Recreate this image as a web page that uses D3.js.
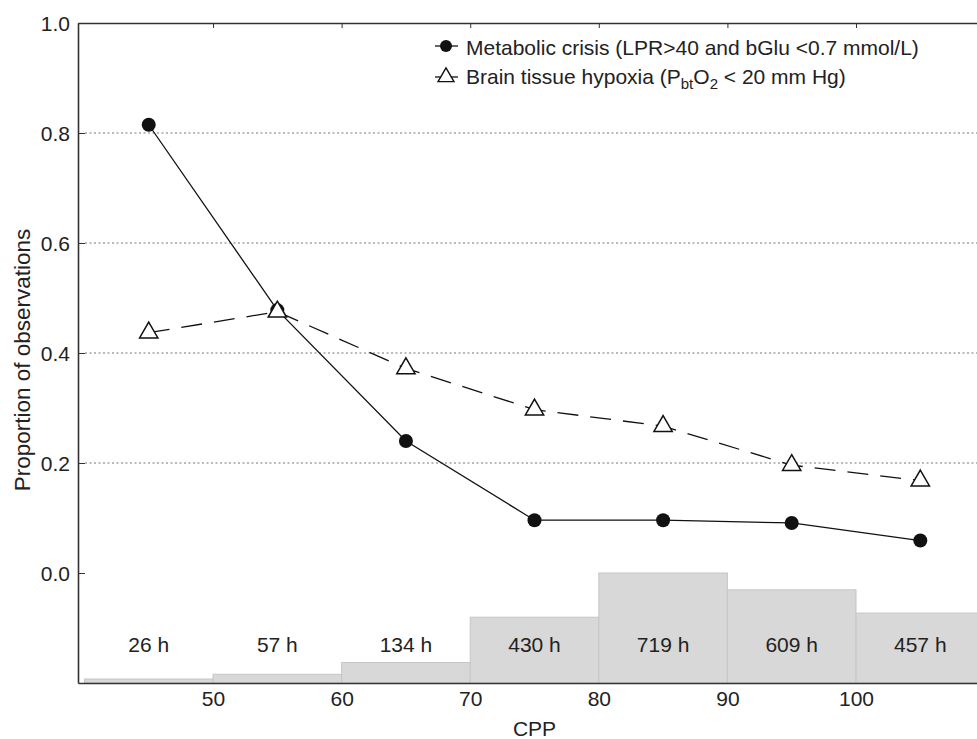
<!DOCTYPE html>
<html>
<head>
<meta charset="utf-8">
<script src="https://cdn.jsdelivr.net/npm/d3@7"></script>
<style>
  body { margin: 0; background: #fff; }
  text { font-family: "Liberation Sans", Arial, sans-serif; fill: #222; }
  .axis path, .axis line { stroke: #333; }
</style>
</head>
<body>
<div id="chart"></div>
<script>
// DATA
const binStarts = [40, 50, 60, 70, 80, 90, 100];    // CPP bins, 10 wide
const binMids = [45, 55, 65, 75, 85, 95, 105];
const hours = [26, 57, 134, 430, 719, 609, 457];    // monitoring time per bin
const metabolic = [0.815, 0.478, 0.24, 0.096, 0.096, 0.091, 0.059];
const hypoxia = [0.437, 0.475, 0.372, 0.297, 0.267, 0.196, 0.168];
const xTicks = [50, 60, 70, 80, 90, 100];
const yTicks = [0.0, 0.2, 0.4, 0.6, 0.8, 1.0];
const gridTicks = [0.2, 0.4, 0.6, 0.8];

// 1: SVG
const W = 977, H = 739;
const margin = { top: 23, left: 78, bottom: 55 };
const svg = d3.select("#chart").append("svg")
    .attr("width", W)
    .attr("height", H);

// 2: SCALES
const x = d3.scaleLinear().domain([39.5, 110]).range([margin.left, 984.6]);
const y = d3.scaleLinear().domain([-0.2, 1.0]).range([H - margin.bottom - 1, margin.top]);
const hScale = d3.scaleLinear().domain([0, 719]).range([0, 110]); // bar height in px

const bottom = y(-0.2);

// 3: GRIDLINES (dotted)
svg.append("g")
    .selectAll("line")
    .data(gridTicks)
    .enter().append("line")
    .attr("x1", margin.left + 7)
    .attr("x2", W)
    .attr("y1", d => y(d))
    .attr("y2", d => y(d))
    .attr("stroke", "#777")
    .attr("stroke-width", 1)
    .attr("stroke-dasharray", "2,2.5");

// 4: AXES (ticks point inward)
svg.append("g")
    .attr("class", "axis")
    .attr("transform", `translate(${margin.left},0)`)
    .call(d3.axisLeft(y).tickValues(yTicks).tickFormat(d3.format(".1f"))
        .tickSizeInner(-7).tickSizeOuter(0).tickPadding(8))
    .call(g => g.select(".domain").attr("stroke-width", 1.6))
    .call(g => g.selectAll("text").attr("font-size", 21).attr("dy", "0.36em"));

svg.append("g")
    .attr("class", "axis")
    .attr("transform", `translate(0,${margin.top})`)
    .call(d3.axisTop(x).tickValues(xTicks).tickFormat("")
        .tickSizeInner(-5).tickSizeOuter(0))
    .call(g => g.select(".domain").attr("stroke-width", 1.6));

// 5: HISTOGRAM OF HOURS
svg.append("g")
    .selectAll("rect")
    .data(binStarts)
    .enter().append("rect")
    .attr("x", d => x(d))
    .attr("width", d => x(d + 10) - x(d))
    .attr("y", (d, i) => bottom - hScale(hours[i]))
    .attr("height", (d, i) => hScale(hours[i]))
    .attr("fill", "#d8d8d8")
    .attr("stroke", "#c6c6c6")
    .attr("stroke-width", 1);

svg.append("g")
    .selectAll("text")
    .data(hours)
    .enter().append("text")
    .attr("x", (d, i) => x(binMids[i]))
    .attr("y", 652)
    .attr("text-anchor", "middle")
    .attr("font-size", 21)
    .text(d => d + " h");

svg.append("g")
    .attr("class", "axis")
    .attr("transform", `translate(0,${bottom})`)
    .call(d3.axisBottom(x).tickValues(xTicks).tickFormat(d3.format("d"))
        .tickSizeInner(0).tickSizeOuter(0).tickPadding(8))
    .call(g => g.select(".domain").attr("stroke-width", 1.6))
    .call(g => g.selectAll("text").attr("font-size", 21));

// 6: LINES
const line = d3.line().x(d => x(d[0])).y(d => y(d[1]));

svg.append("path")
    .datum(d3.zip(binMids, hypoxia))
    .attr("d", line)
    .attr("fill", "none")
    .attr("stroke", "#111")
    .attr("stroke-width", 1.3)
    .attr("stroke-dasharray", "21,12");

svg.append("path")
    .datum(d3.zip(binMids, metabolic))
    .attr("d", line)
    .attr("fill", "none")
    .attr("stroke", "#111")
    .attr("stroke-width", 1.3);

svg.append("g")
    .selectAll("circle")
    .data(d3.zip(binMids, metabolic))
    .enter().append("circle")
    .attr("cx", d => x(d[0]))
    .attr("cy", d => y(d[1]))
    .attr("r", 7)
    .attr("fill", "#111");

const tri = d3.symbol(d3.symbolTriangle, 145);
svg.append("g")
    .selectAll("path")
    .data(d3.zip(binMids, hypoxia))
    .enter().append("path")
    .attr("d", tri)
    .attr("transform", d => `translate(${x(d[0])},${y(d[1])})`)
    .attr("fill", "#fff")
    .attr("stroke", "#111")
    .attr("stroke-width", 1.5);

// 7: LABELS
svg.append("text")
    .attr("x", x(75))
    .attr("y", 736)
    .attr("text-anchor", "middle")
    .attr("font-size", 21)
    .text("CPP");

svg.append("text")
    .attr("transform", "rotate(-90)")
    .attr("x", -360)
    .attr("y", 30)
    .attr("text-anchor", "middle")
    .attr("font-size", 22.5)
    .text("Proportion of observations");

// 8: LEGEND
const legend = svg.append("g");
legend.append("line").attr("x1", 435).attr("x2", 458).attr("y1", 46).attr("y2", 46)
    .attr("stroke", "#111").attr("stroke-width", 1.3);
legend.append("circle").attr("cx", 446).attr("cy", 46).attr("r", 6).attr("fill", "#111");
legend.append("text").attr("x", 466).attr("y", 55).attr("font-size", 21)
    .text("Metabolic crisis (LPR>40 and bGlu <0.7 mmol/L)");

legend.append("line").attr("x1", 435).attr("x2", 458).attr("y1", 77).attr("y2", 77)
    .attr("stroke", "#111").attr("stroke-width", 1.3);
legend.append("path").attr("d", d3.symbol(d3.symbolTriangle, 110))
    .attr("transform", "translate(446,77)")
    .attr("fill", "#fff").attr("stroke", "#111").attr("stroke-width", 1.4);
const t2 = legend.append("text").attr("x", 466).attr("y", 84).attr("font-size", 21);
t2.append("tspan").text("Brain tissue hypoxia (P");
t2.append("tspan").attr("font-size", 15).attr("dy", 5).text("bt");
t2.append("tspan").attr("dy", -5).text("O");
t2.append("tspan").attr("font-size", 15).attr("dy", 5).text("2");
t2.append("tspan").attr("dy", -5).text(" < 20 mm Hg)");
</script>
</body>
</html>
